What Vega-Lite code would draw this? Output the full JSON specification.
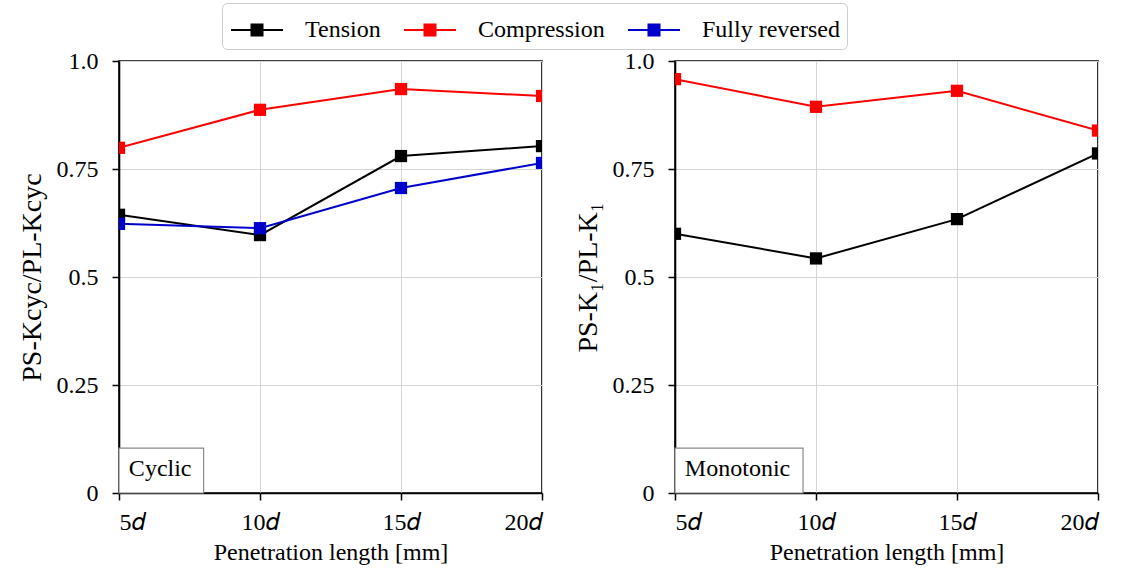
{
  "$schema": "https://vega.github.io/schema/vega-lite/v6.json",
  "background": "white",
  "padding": {"left": 17, "top": 2, "right": 0, "bottom": 0},
  "datasets": {
    "cyclic": [
      {"length": 5, "series": "Tension", "value": 0.644},
      {"length": 10, "series": "Tension", "value": 0.597},
      {"length": 15, "series": "Tension", "value": 0.780},
      {"length": 20, "series": "Tension", "value": 0.803},
      {"length": 5, "series": "Compression", "value": 0.799},
      {"length": 10, "series": "Compression", "value": 0.887},
      {"length": 15, "series": "Compression", "value": 0.935},
      {"length": 20, "series": "Compression", "value": 0.919},
      {"length": 5, "series": "Fully reversed", "value": 0.623},
      {"length": 10, "series": "Fully reversed", "value": 0.613},
      {"length": 15, "series": "Fully reversed", "value": 0.706},
      {"length": 20, "series": "Fully reversed", "value": 0.764}
    ],
    "monotonic": [
      {"length": 5, "series": "Tension", "value": 0.600},
      {"length": 10, "series": "Tension", "value": 0.543},
      {"length": 15, "series": "Tension", "value": 0.634},
      {"length": 20, "series": "Tension", "value": 0.786},
      {"length": 5, "series": "Compression", "value": 0.958},
      {"length": 10, "series": "Compression", "value": 0.894},
      {"length": 15, "series": "Compression", "value": 0.931},
      {"length": 20, "series": "Compression", "value": 0.839}
    ],
    "boxes": [
      {"panel": "Cyclic", "x1": 5, "x2": 8.0, "tx": 5.35},
      {"panel": "Monotonic", "x1": 5, "x2": 9.54, "tx": 5.35}
    ]
  },
  "config": {
    "font": "Liberation Serif",
    "view": {"stroke": "black", "strokeWidth": 1.6},
    "axis": {
      "labelFont": "Liberation Serif", "labelFontSize": 24, "labelColor": "black",
      "titleFont": "Liberation Serif", "titleFontWeight": "normal", "titleColor": "black",
      "domainColor": "black", "domainWidth": 1.6, "tickColor": "black", "tickSize": 7, "tickWidth": 1.5,
      "gridColor": "#d5d5d5", "gridWidth": 1
    }
  },
  "resolve": {"scale": {"color": "shared"}, "legend": {"color": "shared"}},
  "spacing": 29,
  "hconcat": [
    {
      "width": 423, "height": 432,
      "layer": [
        {
          "data": {"name": "cyclic"},
          "mark": {"type": "line", "strokeWidth": 2, "clip": true},
          "encoding": {
            "x": {"field": "length", "type": "quantitative", "scale": {"domain": [5, 20], "nice": false, "zero": false},
              "axis": {"values": [5, 10, 15, 20], "labelExpr": "datum.value + '𝑑'", "title": "Penetration length [mm]", "titleFontSize": 24, "labelPadding": 10, "titlePadding": 6}},
            "y": {"field": "value", "type": "quantitative", "scale": {"domain": [0, 1], "nice": false},
              "axis": {"values": [0, 0.25, 0.5, 0.75, 1], "labelExpr": "datum.value == 1 ? '1.0' : format(datum.value, '.2~f')", "title": "PS-Kcyc/PL-Kcyc", "titleFontSize": 28, "labelPadding": 14, "titlePadding": 10}},
            "color": {"field": "series", "type": "nominal",
              "scale": {"domain": ["Tension", "Compression", "Fully reversed"], "range": ["#000000", "#ff0000", "#0000cc"]},
              "legend": {"title": null, "orient": "none", "legendX": 103, "legendY": -58, "direction": "horizontal",
                "symbolType": "M-0.947,0H1.789M0.131,-0.29H0.711V0.29H0.131Z", "symbolSize": 1444, "symbolStrokeWidth": 2,
                "labelFontSize": 24, "labelFont": "Liberation Serif", "labelColor": "black", "labelOffset": 36,
                "strokeColor": "#cccccc", "cornerRadius": 5, "padding": 7, "columnPadding": 19}}
          }
        },
        {
          "data": {"name": "cyclic"},
          "mark": {"type": "point", "shape": "square", "filled": true, "opacity": 1, "size": 150, "clip": true},
          "encoding": {
            "x": {"field": "length", "type": "quantitative"},
            "y": {"field": "value", "type": "quantitative"},
            "color": {"field": "series", "type": "nominal",
              "legend": {"title": null, "orient": "none", "legendX": 103, "legendY": -58, "direction": "horizontal",
                "symbolType": "M-0.947,0H1.789M0.131,-0.29H0.711V0.29H0.131Z", "symbolSize": 1444, "symbolStrokeWidth": 2,
                "labelFontSize": 24, "labelFont": "Liberation Serif", "labelColor": "black", "labelOffset": 36,
                "strokeColor": "#cccccc", "cornerRadius": 5, "padding": 7, "columnPadding": 19}}
          }
        },
        {
          "data": {"name": "boxes"},
          "transform": [{"filter": "datum.panel == 'Cyclic'"}],
          "mark": {"type": "rect", "fill": "white", "stroke": "#8a8a8a", "strokeWidth": 1.2},
          "encoding": {
            "x": {"field": "x1", "type": "quantitative"},
            "x2": {"field": "x2"},
            "y": {"datum": 0.0},
            "y2": {"datum": 0.104}
          }
        },
        {
          "data": {"name": "boxes"},
          "transform": [{"filter": "datum.panel == 'Cyclic'"}],
          "mark": {"type": "text", "align": "left", "baseline": "middle", "fontSize": 24, "font": "Liberation Serif", "color": "black"},
          "encoding": {
            "x": {"field": "tx", "type": "quantitative"},
            "y": {"datum": 0.056},
            "text": {"field": "panel"}
          }
        }
      ]
    },
    {
      "width": 423, "height": 432,
      "layer": [
        {
          "data": {"name": "monotonic"},
          "mark": {"type": "line", "strokeWidth": 2, "clip": true},
          "encoding": {
            "x": {"field": "length", "type": "quantitative", "scale": {"domain": [5, 20], "nice": false, "zero": false},
              "axis": {"values": [5, 10, 15, 20], "labelExpr": "datum.value + '𝑑'", "title": "Penetration length [mm]", "titleFontSize": 24, "labelPadding": 10, "titlePadding": 6}},
            "y": {"field": "value", "type": "quantitative", "scale": {"domain": [0, 1], "nice": false},
              "axis": {"values": [0, 0.25, 0.5, 0.75, 1], "labelExpr": "datum.value == 1 ? '1.0' : format(datum.value, '.2~f')", "title": "PS-K₁/PL-K₁", "titleFontSize": 28, "labelPadding": 14, "titlePadding": 10}},
            "color": {"field": "series", "type": "nominal",
              "scale": {"domain": ["Tension", "Compression", "Fully reversed"], "range": ["#000000", "#ff0000", "#0000cc"]}}
          }
        },
        {
          "data": {"name": "monotonic"},
          "mark": {"type": "point", "shape": "square", "filled": true, "opacity": 1, "size": 150, "clip": true},
          "encoding": {
            "x": {"field": "length", "type": "quantitative"},
            "y": {"field": "value", "type": "quantitative"},
            "color": {"field": "series", "type": "nominal"}
          }
        },
        {
          "data": {"name": "boxes"},
          "transform": [{"filter": "datum.panel == 'Monotonic'"}],
          "mark": {"type": "rect", "fill": "white", "stroke": "#8a8a8a", "strokeWidth": 1.2},
          "encoding": {
            "x": {"field": "x1", "type": "quantitative"},
            "x2": {"field": "x2"},
            "y": {"datum": 0.0},
            "y2": {"datum": 0.104}
          }
        },
        {
          "data": {"name": "boxes"},
          "transform": [{"filter": "datum.panel == 'Monotonic'"}],
          "mark": {"type": "text", "align": "left", "baseline": "middle", "fontSize": 24, "font": "Liberation Serif", "color": "black"},
          "encoding": {
            "x": {"field": "tx", "type": "quantitative"},
            "y": {"datum": 0.056},
            "text": {"field": "panel"}
          }
        }
      ]
    }
  ]
}
